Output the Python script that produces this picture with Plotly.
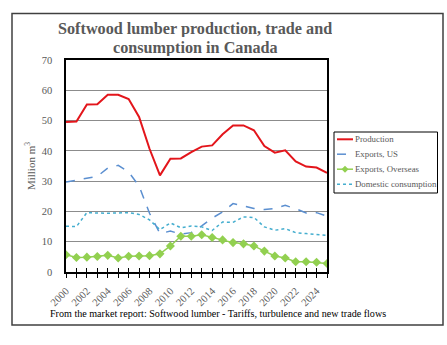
import plotly.graph_objects as go

years = list(range(2000, 2026))
production = [49.5, 49.7, 55.3, 55.4, 58.5, 58.5, 57.1, 51.2, 40.7, 31.9, 37.4, 37.5, 39.6, 41.4, 41.8, 45.5,
              48.4, 48.4, 46.8, 41.6, 39.4, 40.2, 36.5, 34.8, 34.5, 32.7]
exports_us = [29.7, 30.4, 31.0, 31.6, 34.3, 35.2, 33.0, 28.4, 19.4, 12.7, 13.5, 12.5, 13.0, 15.2, 17.8, 19.8,
              22.6, 21.7, 21.0, 20.6, 21.0, 22.0, 20.9, 19.5, 19.6, 18.4]
exports_overseas = [5.7, 4.8, 4.9, 5.1, 5.5, 4.6, 5.2, 5.3, 5.4, 6.0, 8.6, 11.8, 11.8, 12.3, 11.4, 10.6,
                    9.7, 9.3, 8.6, 6.9, 5.3, 4.6, 3.4, 3.4, 3.2, 2.8]
domestic = [15.1, 15.0, 19.6, 19.4, 19.4, 19.5, 19.6, 19.0, 17.2, 14.0, 16.2, 14.6, 15.2, 14.9, 13.7, 16.5,
            16.4, 18.2, 18.0, 14.9, 13.8, 14.3, 13.0, 12.7, 12.4, 12.1]
year_ticks = list(range(2000, 2025, 2))
y_ticks = [0, 10, 20, 30, 40, 50, 60, 70]
series_names = ["Production", "Exports, US", "Exports, Overseas", "Domestic consumption"]
title_lines = ["Softwood lumber production, trade and", "consumption in Canada"]
caption = "From the market report: Softwood lumber - Tariffs, turbulence and new trade flows"

SERIF = "Liberation Serif"
GRAY = "#595959"
colors = ["#E3151B", "#5B8FD0", "#92D050", "#45AECF"]
dashes = ["solid", "dash", "solid", "dot"]
widths = [2, 1.5, 1.5, 1.5]

fig = go.Figure()
for name, vals, c, d, w in zip(series_names, [production, exports_us, exports_overseas, domestic],
                               colors, dashes, widths):
    is_green = name == "Exports, Overseas"
    fig.add_trace(go.Scatter(x=years, y=vals, name=name,
                             mode="lines+markers" if is_green else "lines",
                             line=dict(color=c, width=w, dash=d),
                             marker=dict(symbol="diamond", size=7, color=c),
                             showlegend=False))
# second x axis drawing the inside half of the crossing tick marks
fig.add_trace(go.Scatter(x=[], y=[], xaxis="x2", showlegend=False, hoverinfo="skip"))

L, R, T, B = 66, 120, 60, 73
W, H = 447, 345
pw, ph = W - L - R, H - T - B


def px(x):
    return (x - L) / pw


def py(y):
    return (H - B - y) / ph


shapes = [dict(type="rect", xref="paper", yref="paper",
               x0=px(12), x1=px(443), y0=py(325), y1=py(13.5),
               line=dict(color="#404040", width=1.5), fillcolor="rgba(0,0,0,0)", layer="below"),
          dict(type="rect", xref="paper", yref="paper",
               x0=px(334), x1=px(437.5), y0=py(193), y1=py(132),
               line=dict(color="black", width=1), fillcolor="white")]
annotations = []
for i, t in enumerate(title_lines):
    annotations.append(dict(text="<b>" + t + "</b>", xref="paper", yref="paper",
                            x=px(195), y=py(28.5 + 19 * i), xanchor="center", yanchor="middle",
                            height=17, valign="middle",
                            showarrow=False, font=dict(family=SERIF, size=16.2, color=GRAY)))
annotations.append(dict(text=caption, xref="paper", yref="paper", x=px(48), y=py(313),
                        xanchor="left", yanchor="middle", showarrow=False,
                        font=dict(family=SERIF, size=10.1, color="black")))

leg_y = [139.3, 154.2, 169.2, 184.2]
for i, name in enumerate(series_names):
    yy = py(leg_y[i])
    shapes.append(dict(type="line", xref="paper", yref="paper", x0=px(337), x1=px(353), y0=yy, y1=yy,
                       line=dict(color=colors[i], width=widths[i],
                                 dash={"solid": "solid", "dash": "dash", "dot": "dot"}[dashes[i]])))
    if name == "Exports, Overseas":
        cx, cy, s = 345, leg_y[i], 3.5
        path = "M {} {} L {} {} L {} {} L {} {} Z".format(
            px(cx - s), py(cy), px(cx), py(cy - s), px(cx + s), py(cy), px(cx), py(cy + s))
        shapes.append(dict(type="path", xref="paper", yref="paper", path=path,
                           fillcolor=colors[i], line=dict(color=colors[i], width=0)))
    annotations.append(dict(text=name, xref="paper", yref="paper", x=px(353), y=yy,
                            xanchor="left", yanchor="middle", showarrow=False,
                            font=dict(family=SERIF, size=8.8, color=GRAY)))

fig.update_layout(
    width=W, height=H,
    margin=dict(l=L, r=R, t=T, b=B, pad=0),
    paper_bgcolor="white", plot_bgcolor="white",
    font=dict(family=SERIF, size=10, color=GRAY),
    showlegend=False,
    xaxis=dict(range=[2000, 2025], tickmode="array", tickvals=year_ticks,
               ticktext=[str(v) for v in year_ticks], tickangle=-45,
               ticks="outside", ticklen=4, tickcolor="black", tickwidth=1,
               ticklabelstandoff=3,
               minor=dict(dtick=1, ticks="outside", ticklen=4, tickcolor="black", showgrid=False),
               showgrid=False, showline=True, linecolor="black", linewidth=1.5, mirror=True,
               zeroline=False, tickfont=dict(family=SERIF, size=10.5, color=GRAY)),
    xaxis2=dict(range=[2000, 2025], overlaying="x", anchor="y", side="bottom",
                tickmode="linear", tick0=2000, dtick=1, ticks="inside", ticklen=4,
                tickcolor="black", showticklabels=False, showgrid=False, showline=False,
                zeroline=False),
    yaxis=dict(range=[0, 70], tickvals=y_ticks, showgrid=True, gridcolor="#8C8C8C", gridwidth=1,
               showline=True, linecolor="black", linewidth=1.5, mirror=True, zeroline=False,
               ticks="", ticklabelstandoff=10, tickfont=dict(family=SERIF, size=10.5, color=GRAY),
               title=dict(text="Million m<sup>3</sup>", standoff=4,
                          font=dict(family=SERIF, size=11, color=GRAY))),
    shapes=shapes,
    annotations=annotations,
)

fig.write_html("out.html")
